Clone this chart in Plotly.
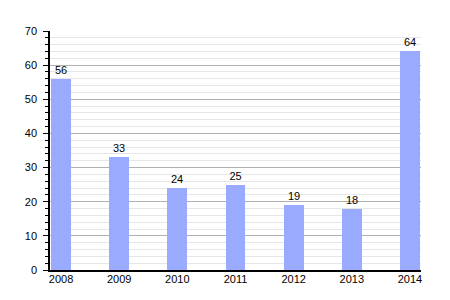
import plotly.graph_objects as go

years = ["2008", "2009", "2010", "2011", "2012", "2013", "2014"]
values = [56, 33, 24, 25, 19, 18, 64]

fig = go.Figure(go.Bar(
    x=years, y=values, text=[str(v) for v in values],
    textposition="outside", cliponaxis=False,
    textfont=dict(size=11, color="black", family="Liberation Sans, Arial"),
    marker=dict(color="#99aaff", line=dict(width=0)),
    width=0.34,
))

fig.update_layout(
    width=450, height=300,
    margin=dict(l=50, r=29, t=31, b=30),
    paper_bgcolor="white", plot_bgcolor="white",
    font=dict(family="Liberation Sans, Arial", size=11, color="black"),
    showlegend=False,
    bargap=0,
)
fig.update_xaxes(
    type="category", range=[-0.19, 6.19],
    showline=True, linecolor="black", linewidth=1.5,
    showgrid=False, ticks="", tickfont=dict(size=11, color="black"),
    ticklabelstandoff=-2,
)
fig.update_yaxes(
    range=[0, 70], dtick=10, tick0=0,
    showline=True, linecolor="black", linewidth=1.5,
    showgrid=True, gridcolor="#b0b0b0", gridwidth=1,
    ticks="outside", ticklen=5, tickcolor="black",
    minor=dict(dtick=2, showgrid=True, gridcolor="#e6e6e6", ticks="outside", ticklen=3, tickcolor="black"),
    zeroline=False, tickfont=dict(size=11, color="black"),
    ticklabelstandoff=4,
)

fig.write_html("out.html")
